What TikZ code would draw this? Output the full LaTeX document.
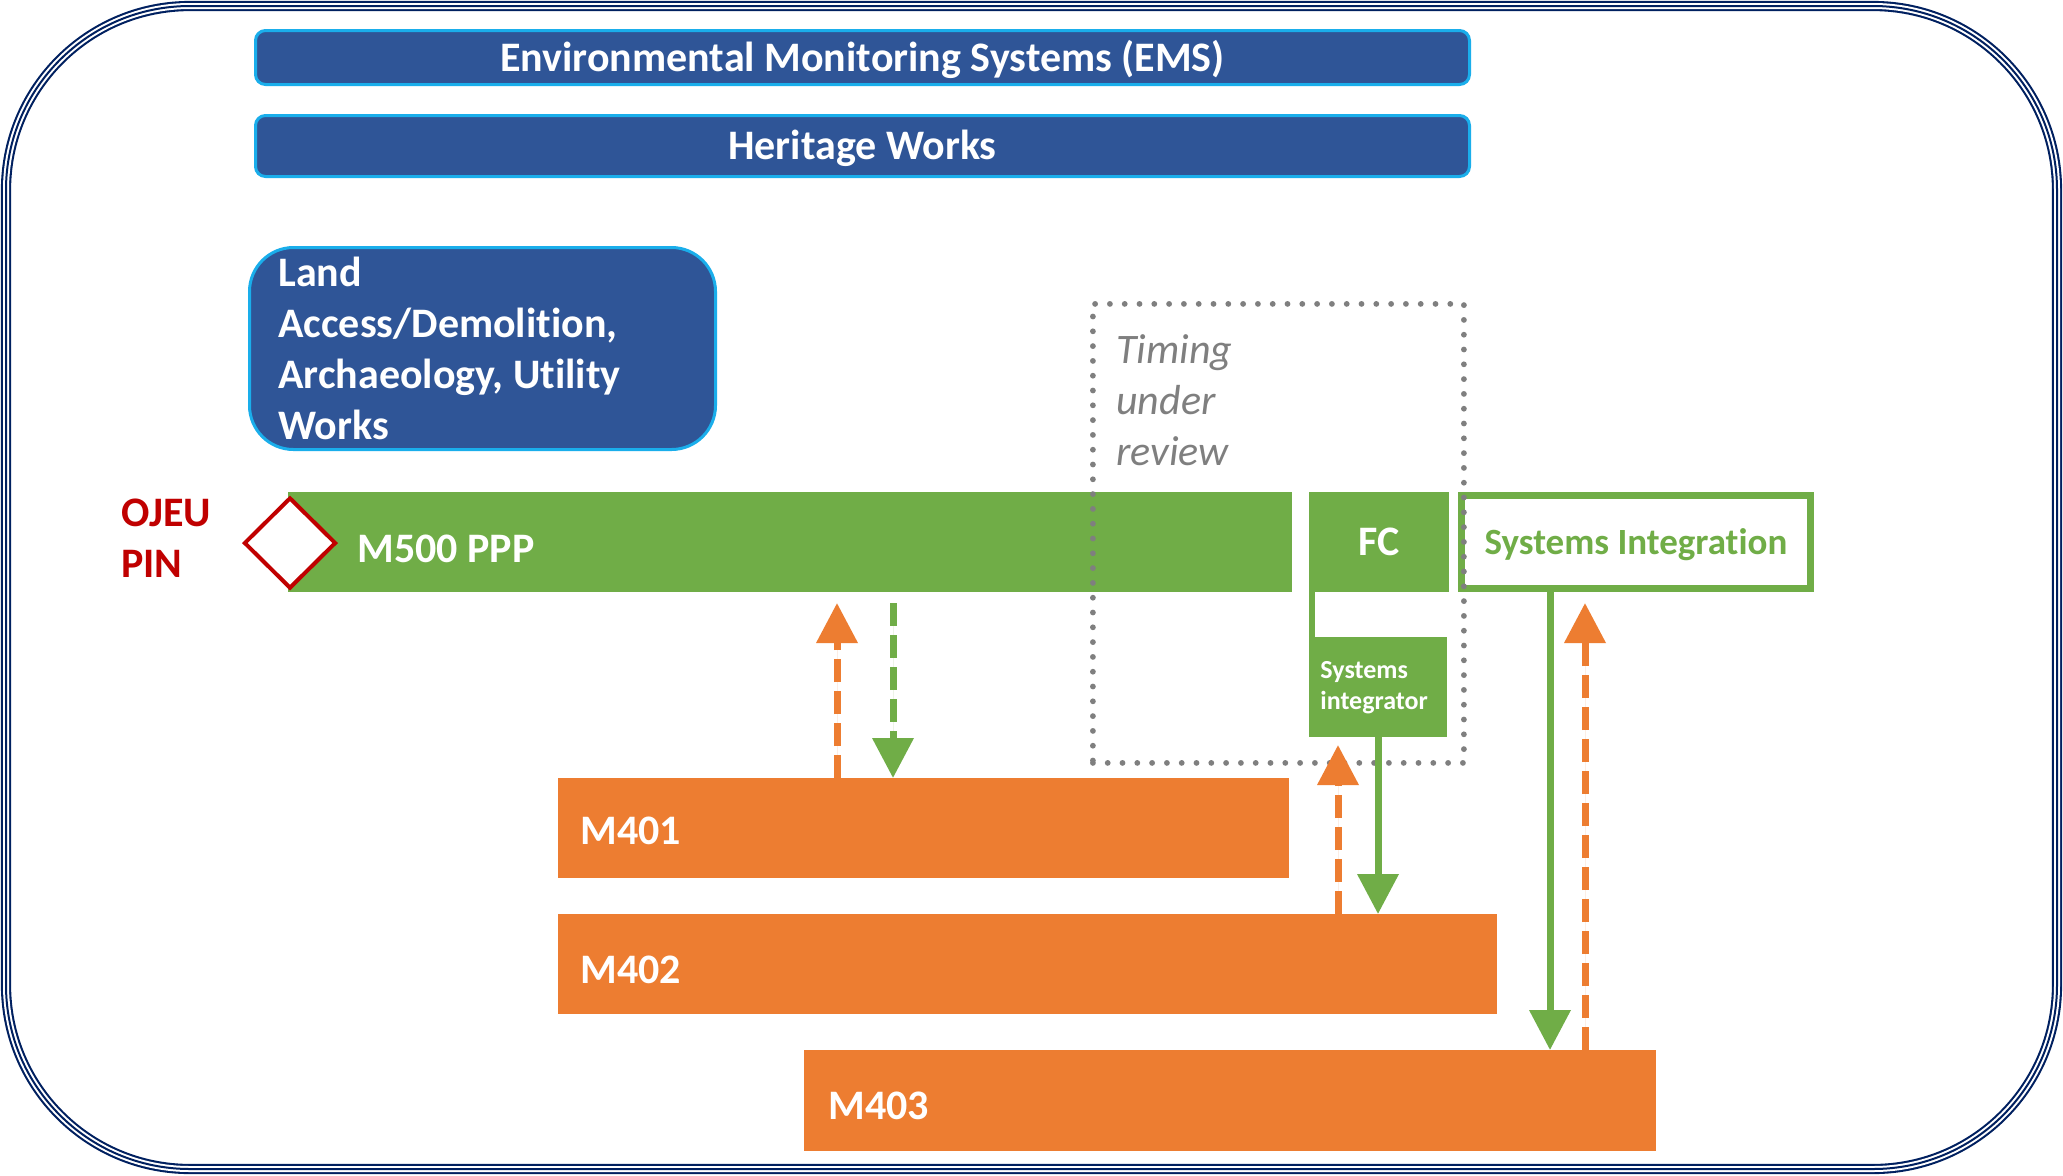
\documentclass[tikz,border=0pt]{standalone}
\usepackage{fontspec}
\setmainfont{Carlito}[Ligatures={NoCommon}]
\usetikzlibrary{shapes.geometric,arrows.meta,calc}
\definecolor{navy}{HTML}{002060}
\definecolor{boxblue}{HTML}{2F5597}
\definecolor{edgeblue}{HTML}{1AAEEB}
\definecolor{pgreen}{HTML}{70AD47}
\definecolor{porange}{HTML}{ED7D31}
\definecolor{pred}{HTML}{C00000}
\definecolor{pgray}{HTML}{7F7F7F}
\begin{document}
\begin{tikzpicture}[x=0.5pt,y=-0.5pt,
  bigfont/.style={font=\fontsize{21pt}{25.5pt}\selectfont\bfseries},
  bluebar/.style={draw=edgeblue, line width=1.5pt, fill=boxblue, rounded corners=5pt, inner sep=0pt, text=white, bigfont},
  greenbar/.style={fill=pgreen, inner sep=0pt, outer sep=0pt, minimum height=50pt},
  orangebar/.style={fill=porange, inner sep=0pt, outer sep=0pt, minimum height=50pt, anchor=north west},
  bartext/.style={bigfont, text=white, anchor=base west, inner sep=0pt},
  tipstyle/.style={-{Triangle[width=20pt,length=20pt]}},
  oarrow/.style={tipstyle, draw=porange, fill=porange, line width=3.5pt, dash pattern=on 11.5pt off 4.5pt},
  garrow/.style={tipstyle, draw=pgreen, fill=pgreen, line width=3.5pt},
  gdarrow/.style={garrow, dash pattern=on 11.5pt off 4.5pt},
]
\useasboundingbox (0,0) rectangle (2063,1175);
\fill[white] (0,0) rectangle (2063,1175);

% triple border
\draw[navy, line width=5.1pt, rounded corners=92pt] (6,6) rectangle (2057,1169);
\draw[white, line width=3.0pt, rounded corners=92pt] (6,6) rectangle (2057,1169);
\draw[navy, line width=1.0pt, rounded corners=92pt] (6,6) rectangle (2057,1169);

% top bars
\node[bluebar, minimum width=607pt, minimum height=27pt, text height=13.5pt, text depth=0pt] (ems) at (862.5,57.5) {Environmental Monitoring Systems (EMS)};
\node[bluebar, minimum width=607pt, minimum height=30.5pt, text height=13.5pt, text depth=0pt] (heritage) at (862.5,146) {Heritage Works};

% land box
\node[bluebar, rounded corners=22pt, minimum width=233pt, minimum height=101pt, anchor=north west] (land) at (248,246) {};
\node[bartext, anchor=north west, align=left] (landtext) at (278,257) {Land\\Access/Demolition,\\Archaeology, Utility\\Works};

% OJEU PIN
\node[bartext, text=pred, anchor=north west, align=left] (ojeu) at (121,499) {OJEU\\PIN};

% M500
\node[greenbar, minimum width=502pt, anchor=north west] (m500) at (288,492) {};
\node[bartext] (m500t) at (357,562) {M500 PPP};
\node[diamond, draw=pred, fill=white, line width=2pt, minimum width=46pt, minimum height=45.5pt, inner sep=0pt] (pin) at (290,543) {};

% FC and systems integrator
\node[greenbar, minimum width=70pt, text=white, bigfont, text height=13.5pt, text depth=0pt] (fc) at (1379,542) {FC};
\node[greenbar, minimum width=69pt, anchor=north west] (sint) at (1309,637) {};
\node[anchor=north west, align=left, text=white, font=\fontsize{13pt}{15.5pt}\selectfont\bfseries, inner sep=0pt] (sintt) at (1320,661) {Systems\\integrator};
\draw[pgreen, line width=3pt] ($(fc.south west)+(3,0)$) -- ($(sint.north west)+(3,0)$);

% Systems Integration
\node[draw=pgreen, line width=3.5pt, fill=white, minimum width=174.5pt, minimum height=46.5pt, inner sep=0pt, text=pgreen, font=\fontsize{18.5pt}{22pt}\selectfont\bfseries, text height=12pt, text depth=0pt] (si) at (1636,542) {Systems Integration};

% orange bars
\node[orangebar, minimum width=365.5pt] (m401) at (558,778) {};
\node[bartext] (m401t) at (580,844) {M401};
\node[orangebar, minimum width=469.5pt] (m402) at (558,914) {};
\node[bartext] (m402t) at (580,983) {M402};
\node[orangebar, minimum width=426pt, minimum height=50.5pt] (m403) at (804,1050) {};
\node[bartext] (m403t) at (828,1119) {M403};

% timing under review box
\node[draw=pgray, line width=2.9pt, line cap=round, dash pattern=on 0pt off 7.4pt, minimum width=185.5pt, minimum height=229.5pt, inner sep=0pt, anchor=north west] (review) at (1090,301) {};
\node[anchor=north west, align=left, text=pgray, font=\fontsize{21pt}{25.5pt}\selectfont\itshape, inner sep=0pt] (timing) at (1116,334) {Timing\\under\\review};

% arrows
\draw[oarrow] (837,0 |- m401.north) -- ($(837,0 |- m500.south)+(0,11)$);
\draw[gdarrow] ($(893,0 |- m500.south)+(0,11)$) -- (893,0 |- m401.north);
\draw[oarrow] (1338,0 |- m402.north) -- ($(1338,0 |- sint.south)+(0,8)$);
\draw[garrow] (1378,0 |- sint.south) -- (1378,0 |- m402.north);
\draw[garrow] (1550,0 |- si.south) -- (1550,0 |- m403.north);
\draw[oarrow] (1585,0 |- m403.north) -- ($(1585,0 |- si.south)+(0,11)$);
\end{tikzpicture}
\end{document}
